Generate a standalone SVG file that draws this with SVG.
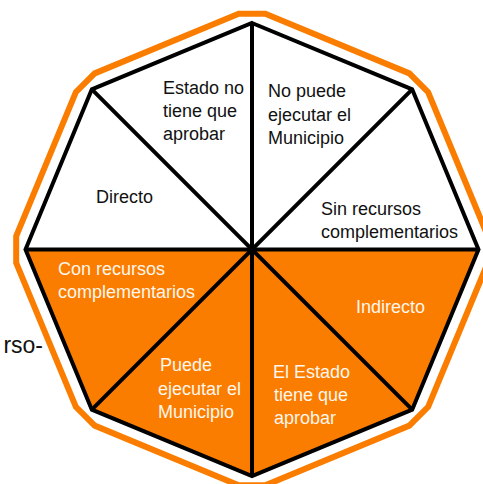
<svg xmlns="http://www.w3.org/2000/svg" width="483" height="484" viewBox="0 0 483 484">
  <style>
    .w { fill: #ffffff; }
    .o { fill: #FA7D00; }
    text { font-family: "Liberation Sans", Arial, sans-serif; font-size: 18px; }
    .tb { fill: #111111; }
    .tw { fill: #FFF6EC; }
    .edge { fill: none; stroke: #000000; stroke-width: 4; stroke-linejoin: miter; }
    .outer { fill: none; stroke: #FA7D00; stroke-width: 6; stroke-linejoin: miter; }
  </style>
  <rect x="0" y="0" width="483" height="484" fill="#ffffff"/>

  <g id="sector-no-puede">
    <polygon class="w" points="252,249.5 252,23 412.16,89.34"/>
    <text class="tb" x="268" y="97">No puede</text>
    <text class="tb" x="268" y="121">ejecutar el</text>
    <text class="tb" x="268" y="144">Municipio</text>
  </g>
  <g id="sector-sin-recursos">
    <polygon class="w" points="252,249.5 412.16,89.34 478.5,249.5"/>
    <text class="tb" x="321" y="215">Sin recursos</text>
    <text class="tb" x="321" y="238">complementarios</text>
  </g>
  <g id="sector-indirecto">
    <polygon class="o" points="252,249.5 478.5,249.5 412.16,409.66"/>
    <text class="tw" x="356" y="313">Indirecto</text>
  </g>
  <g id="sector-el-estado">
    <polygon class="o" points="252,249.5 412.16,409.66 252,476"/>
    <text class="tw" x="273" y="378">El Estado</text>
    <text class="tw" x="274" y="401">tiene que</text>
    <text class="tw" x="274" y="424">aprobar</text>
  </g>
  <g id="sector-puede">
    <polygon class="o" points="252,249.5 252,476 91.84,409.66"/>
    <text class="tw" x="160" y="371">Puede</text>
    <text class="tw" x="158" y="395">ejecutar el</text>
    <text class="tw" x="158" y="418">Municipio</text>
  </g>
  <g id="sector-con-recursos">
    <polygon class="o" points="252,249.5 91.84,409.66 25.5,249.5"/>
    <text class="tw" x="58" y="275">Con recursos</text>
    <text class="tw" x="58" y="298">complementarios</text>
  </g>
  <g id="sector-directo">
    <polygon class="w" points="252,249.5 25.5,249.5 91.84,89.34"/>
    <text class="tb" x="96" y="203">Directo</text>
  </g>
  <g id="sector-estado-no">
    <polygon class="w" points="252,249.5 91.84,89.34 252,23"/>
    <text class="tb" x="163" y="94">Estado no</text>
    <text class="tb" x="163" y="117">tiene que</text>
    <text class="tb" x="163" y="140">aprobar</text>
  </g>

  <g id="connectors">
    <polygon class="edge" points="252,23 412.16,89.34 478.5,249.5 412.16,409.66 252,476 91.84,409.66 25.5,249.5 91.84,89.34"/>
    <line class="edge" x1="252" y1="23" x2="252" y2="476"/>
    <line class="edge" x1="25.5" y1="249.5" x2="478.5" y2="249.5"/>
    <line class="edge" x1="91.84" y1="89.34" x2="412.16" y2="409.66"/>
    <line class="edge" x1="412.16" y1="89.34" x2="91.84" y2="409.66"/>
  </g>

  <g id="outer-frame">
    <polygon class="outer" points="238.7,13.7 265.3,13.7 409.33,73.37 428.13,92.17 487.8,236.2 487.8,262.8 428.13,406.83 409.33,425.63 265.3,485.3 238.7,485.3 94.67,425.63 75.87,406.83 16.2,262.8 16.2,236.2 75.87,92.17 94.67,73.37"/>
  </g>

  <text class="tb" x="43" y="353" text-anchor="end" style="font-size:23px">rso-</text>
</svg>
